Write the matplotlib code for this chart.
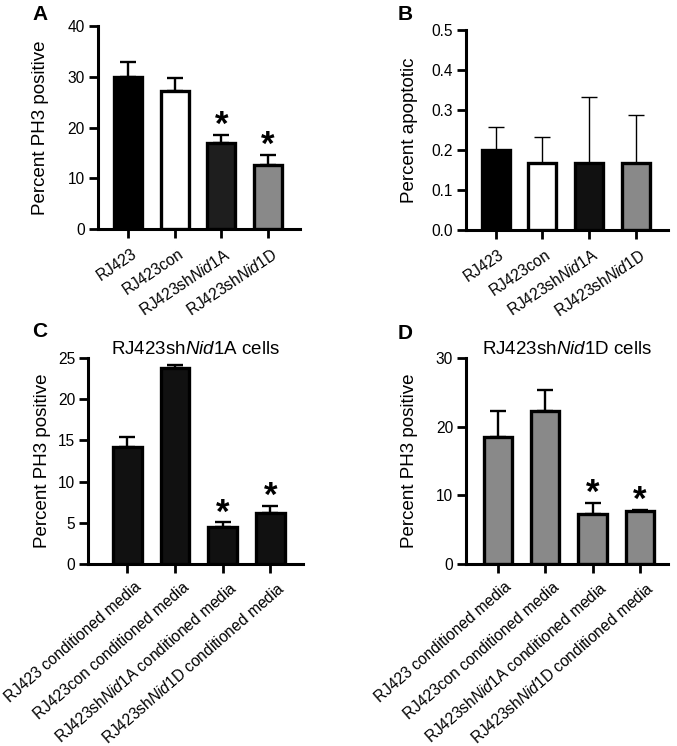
import matplotlib
matplotlib.use("Agg")
import matplotlib.pyplot as plt
from matplotlib.transforms import ScaledTranslation

plt.rcParams['font.family'] = ['Liberation Sans', 'DejaVu Sans']
plt.rcParams['mathtext.fontset'] = 'custom'
plt.rcParams['mathtext.rm'] = 'Liberation Sans'
plt.rcParams['mathtext.it'] = 'Liberation Sans:italic'

# ---- data ----
labels_ab = ["RJ423", "RJ423con", r"RJ423sh$\mathit{Nid1}$A", r"RJ423sh$\mathit{Nid1}$D"]
labels_cd = ["RJ423 conditioned media", "RJ423con conditioned media",
             r"RJ423sh$\mathit{Nid1}$A conditioned media",
             r"RJ423sh$\mathit{Nid1}$D conditioned media"]

a_mean = [30.0, 27.1, 17.0, 12.6]
a_err = [2.9, 2.6, 1.6, 2.0]
a_sig = [False, False, True, True]

b_mean = [0.200, 0.1667, 0.1667, 0.1667]
b_err = [0.058, 0.067, 0.167, 0.120]
b_sig = [False, False, False, False]

c_mean = [14.2, 23.75, 4.55, 6.25]
c_err = [1.2, 0.35, 0.52, 0.85]
c_sig = [False, False, True, True]

d_mean = [18.5, 22.3, 7.3, 7.75]
d_err = [3.7, 3.05, 1.6, 0.18]
d_sig = [False, False, True, True]

colors_a = ["#000000", "#ffffff", "#1e1e1e", "#898989"]
colors_b = ["#000000", "#ffffff", "#111111", "#898989"]
colors_c = ["#111111"] * 4
colors_d = ["#898989"] * 4

fig = plt.figure(figsize=(6.77, 7.46), dpi=100)

def panel(rect, means, errs, sig, colors, labels, ylabel, yticks, ylim, xlim,
          rot, title=None, elw=1.7, labelpad=10, xfs=11.2, xpad=6, shift=0):
    ax = fig.add_axes(rect)
    x = list(range(len(means)))
    ax.bar(x, means, width=0.6, color=colors, edgecolor='black', linewidth=2.4, zorder=3)
    ax.errorbar(x, means, yerr=[[0] * len(errs), errs], fmt='none', ecolor='black',
                elinewidth=elw, capsize=6, capthick=elw, zorder=2)
    for xi, m, e, s in zip(x, means, errs, sig):
        if s:
            ax.annotate('*', (xi, m + e), xytext=(0, 0), textcoords='offset points',
                        ha='center', va='baseline', fontsize=25, fontweight='bold')
    ax.set_xlim(*xlim)
    ax.set_ylim(*ylim)
    ax.set_yticks(yticks)
    ax.set_xticks(x)
    ax.set_xticklabels(labels, rotation=rot, ha='right', va='top',
                       rotation_mode='anchor', fontsize=xfs)
    ax.tick_params(axis='both', direction='out', length=6.3, width=2, labelsize=11.2, pad=3)
    ax.tick_params(axis='x', pad=xpad)
    off = ScaledTranslation(shift / 72.0, 0, fig.dpi_scale_trans)
    for t in ax.get_xticklabels():
        t.set_transform(t.get_transform() + off)
    for sp in ['top', 'right']:
        ax.spines[sp].set_visible(False)
    for sp in ['left', 'bottom']:
        ax.spines[sp].set_linewidth(2.2)
    ax.set_ylabel(ylabel, fontsize=13.5, labelpad=labelpad)
    if title:
        ax.set_title(title, fontsize=13.5, pad=3)
    return ax

panel([0.1443, 0.6926, 0.2987, 0.2729], a_mean, a_err, a_sig, colors_a, labels_ab,
      "Percent PH3 positive", [0, 10, 20, 30, 40], (0, 40), (-0.66, 3.69), 34,
      labelpad=13, shift=2)
panel([0.6883, 0.6917, 0.2984, 0.2677], b_mean, b_err, b_sig, colors_b, labels_ab,
      "Percent apoptotic", [0.0, 0.1, 0.2, 0.3, 0.4, 0.5], (0, 0.5), (-0.64, 3.69), 34,
      elw=1.0, labelpad=10, shift=2)
panel([0.1304, 0.2436, 0.3167, 0.2769], c_mean, c_err, c_sig, colors_c, labels_cd,
      "Percent PH3 positive", [0, 5, 10, 15, 20, 25], (0, 25), (-0.82, 3.68), 41,
      title=r"RJ423sh$\mathit{Nid1}$A cells", labelpad=5, xfs=10.8, xpad=4.5, shift=5)
panel([0.6883, 0.2436, 0.2984, 0.2769], d_mean, d_err, d_sig, colors_d, labels_cd,
      "Percent PH3 positive", [0, 10, 20, 30], (0, 30), (-0.67, 3.59), 41,
      title=r"RJ423sh$\mathit{Nid1}$D cells", labelpad=13, xfs=10.8, xpad=4.5, shift=5)

for lab, xx, yy in [("A", 0.059, 0.980), ("B", 0.598, 0.980), ("C", 0.059, 0.556), ("D", 0.598, 0.553)]:
    fig.text(xx, yy, lab, fontsize=15, fontweight='bold', ha='center', va='center')

fig.savefig("out.png", dpi=100)
